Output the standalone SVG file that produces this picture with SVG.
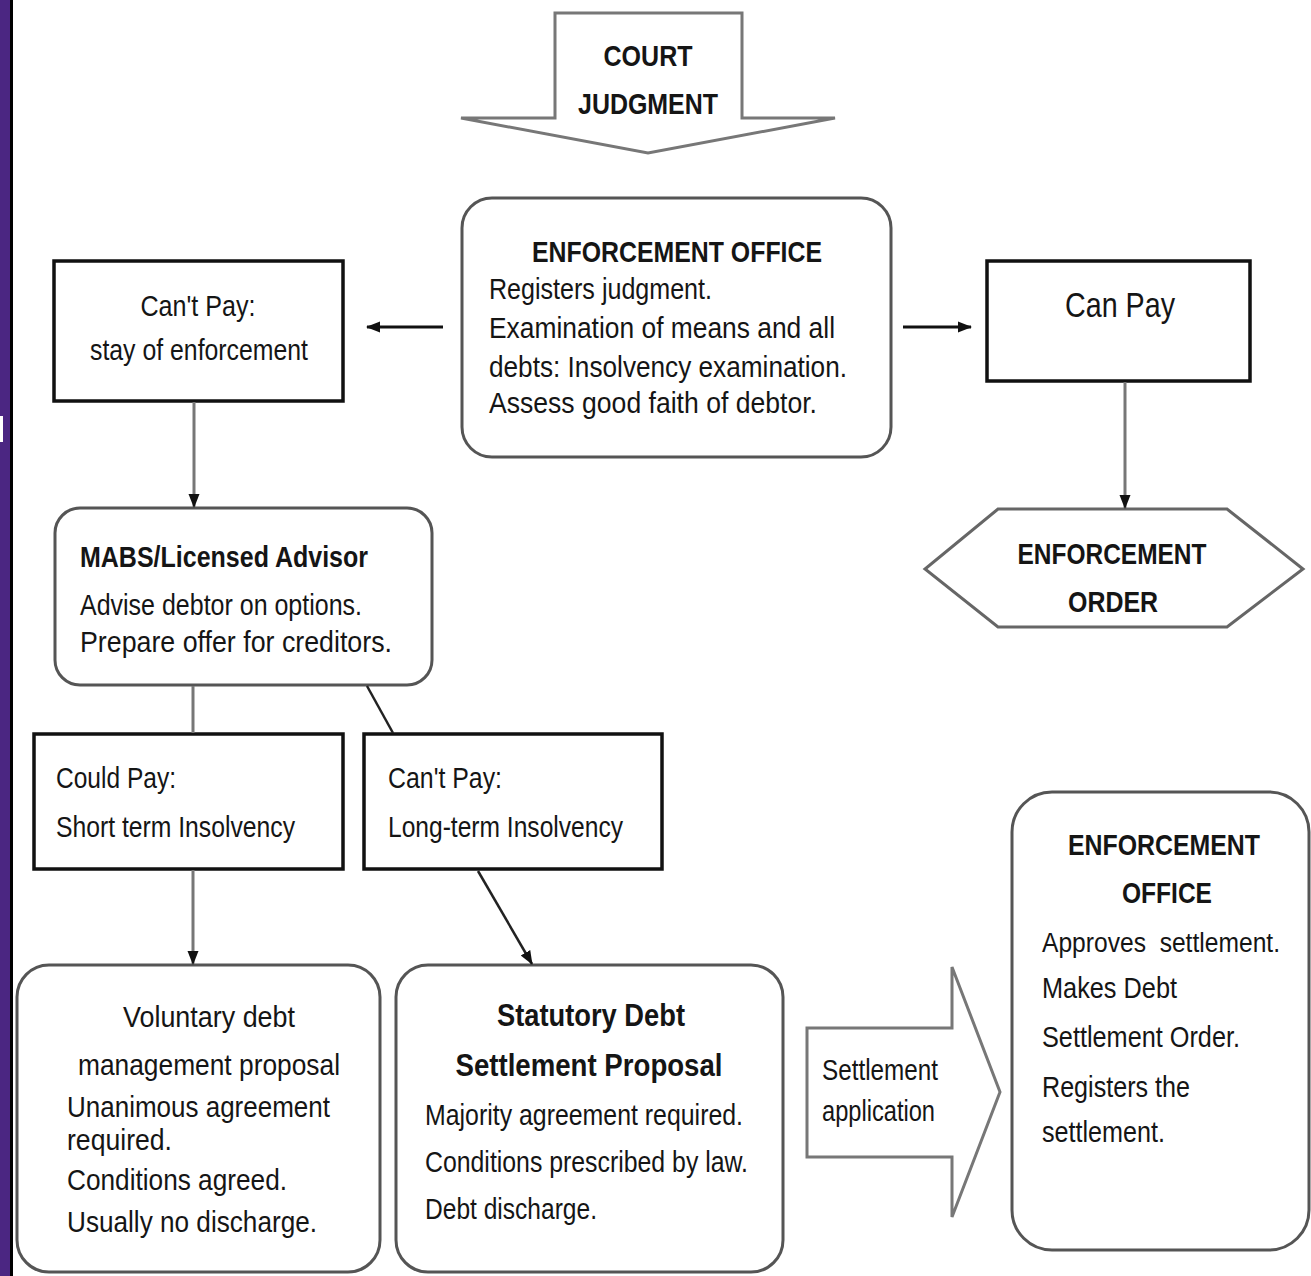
<svg xmlns="http://www.w3.org/2000/svg" width="1311" height="1276" viewBox="0 0 1311 1276">
<defs>
<marker id="ah" markerWidth="14" markerHeight="14" refX="13" refY="7" orient="auto" markerUnits="userSpaceOnUse">
<path d="M0,1.5 L14,7 L0,12.5 Z" fill="#111"/>
</marker>
<style>
text{font-family:"Liberation Sans",Arial,sans-serif;fill:#151515;font-size:30px}
.b{font-weight:bold}
.m{text-anchor:middle}
.box{fill:#fff;stroke:#111;stroke-width:3.5}
.rbox{fill:#fff;stroke:#555;stroke-width:3}
.conn{fill:none;stroke:#777;stroke-width:3}
.dconn{fill:none;stroke:#222;stroke-width:2.5}
.hconn{fill:none;stroke:#111;stroke-width:3}
</style>
</defs>
<rect x="0" y="0" width="1311" height="1276" fill="#fff"/>
<rect x="0" y="0" width="10" height="1276" fill="#4b2682"/>
<rect x="10" y="0" width="3" height="1276" fill="#000"/>
<rect x="0" y="416" width="3" height="26" fill="#fff"/>

<g id="court-judgment">
<path d="M555,13 L742,13 L742,118 L835,118 L648,153 L461,118 L555,118 Z" fill="#fff" stroke="#777" stroke-width="3"/>
<text class="b m" x="648" y="66" textLength="89" lengthAdjust="spacingAndGlyphs">COURT</text>
<text class="b m" x="648" y="114" textLength="140" lengthAdjust="spacingAndGlyphs">JUDGMENT</text>
</g>

<g id="enforcement-office">
<rect class="rbox" x="462" y="198" width="429" height="259" rx="30"/>
<text class="b m" x="677" y="262" textLength="290" lengthAdjust="spacingAndGlyphs">ENFORCEMENT OFFICE</text>
<text x="489" y="299" textLength="223" lengthAdjust="spacingAndGlyphs">Registers judgment.</text>
<text x="489" y="338" textLength="346" lengthAdjust="spacingAndGlyphs">Examination of means and all</text>
<text x="489" y="377" textLength="358" lengthAdjust="spacingAndGlyphs">debts: Insolvency examination.</text>
<text x="489" y="413" textLength="328" lengthAdjust="spacingAndGlyphs">Assess good faith of debtor.</text>
</g>

<g id="cant-pay-stay">
<rect class="box" x="54" y="261" width="289" height="140"/>
<text class="m" x="198" y="316" textLength="115" lengthAdjust="spacingAndGlyphs">Can't Pay:</text>
<text class="m" x="199" y="360" textLength="218" lengthAdjust="spacingAndGlyphs">stay of enforcement</text>
</g>

<g id="can-pay">
<rect class="box" x="987" y="261" width="263" height="120"/>
<text class="m" x="1120" y="317" textLength="110" lengthAdjust="spacingAndGlyphs" style="font-size:35px">Can Pay</text>
</g>

<g id="enforcement-order">
<path d="M998,509 L1227,509 L1303,569 L1227,627 L998,627 L925,569 Z" fill="#fff" stroke="#666" stroke-width="3"/>
<text class="b m" x="1112" y="564" textLength="189" lengthAdjust="spacingAndGlyphs">ENFORCEMENT</text>
<text class="b m" x="1113" y="612" textLength="90" lengthAdjust="spacingAndGlyphs">ORDER</text>
</g>

<g id="mabs">
<rect class="rbox" x="55" y="508" width="377" height="177" rx="25"/>
<text class="b" x="80" y="567" textLength="288" lengthAdjust="spacingAndGlyphs">MABS/Licensed Advisor</text>
<text x="80" y="615" textLength="282" lengthAdjust="spacingAndGlyphs">Advise debtor on options.</text>
<text x="80" y="652" textLength="312" lengthAdjust="spacingAndGlyphs">Prepare offer for creditors.</text>
</g>

<g id="could-pay">
<rect class="box" x="34" y="734" width="309" height="135"/>
<text x="56" y="788" textLength="120" lengthAdjust="spacingAndGlyphs">Could Pay:</text>
<text x="56" y="837" textLength="239" lengthAdjust="spacingAndGlyphs">Short term Insolvency</text>
</g>

<g id="cant-pay-long">
<rect class="box" x="364" y="734" width="298" height="135"/>
<text x="388" y="788" textLength="114" lengthAdjust="spacingAndGlyphs">Can't Pay:</text>
<text x="388" y="837" textLength="235" lengthAdjust="spacingAndGlyphs">Long-term Insolvency</text>
</g>

<g id="voluntary">
<rect class="rbox" x="17" y="965" width="363" height="307" rx="32"/>
<text class="m" x="209" y="1027" textLength="172" lengthAdjust="spacingAndGlyphs">Voluntary debt</text>
<text class="m" x="209" y="1075" textLength="262" lengthAdjust="spacingAndGlyphs">management proposal</text>
<text x="67" y="1117" textLength="263" lengthAdjust="spacingAndGlyphs">Unanimous agreement</text>
<text x="67" y="1150" textLength="105" lengthAdjust="spacingAndGlyphs">required.</text>
<text x="67" y="1190" textLength="220" lengthAdjust="spacingAndGlyphs">Conditions agreed.</text>
<text x="67" y="1232" textLength="250" lengthAdjust="spacingAndGlyphs">Usually no discharge.</text>
</g>

<g id="statutory">
<rect class="rbox" x="396" y="965" width="387" height="307" rx="32"/>
<text class="b m" x="591" y="1026" textLength="188" lengthAdjust="spacingAndGlyphs" style="font-size:32px">Statutory Debt</text>
<text class="b m" x="589" y="1076" textLength="267" lengthAdjust="spacingAndGlyphs" style="font-size:32px">Settlement Proposal</text>
<text x="425" y="1125" textLength="318" lengthAdjust="spacingAndGlyphs">Majority agreement required.</text>
<text x="425" y="1172" textLength="323" lengthAdjust="spacingAndGlyphs">Conditions prescribed by law.</text>
<text x="425" y="1219" textLength="172" lengthAdjust="spacingAndGlyphs">Debt discharge.</text>
</g>

<g id="settlement-application">
<path d="M807,1028 L952,1028 L952,967 L1000,1092 L952,1217 L952,1157 L807,1157 Z" fill="#fff" stroke="#777" stroke-width="3"/>
<text x="822" y="1080" textLength="116" lengthAdjust="spacingAndGlyphs">Settlement</text>
<text x="822" y="1121" textLength="113" lengthAdjust="spacingAndGlyphs">application</text>
</g>

<g id="enforcement-office-2">
<rect class="rbox" x="1012" y="792" width="297" height="458" rx="40"/>
<text class="b m" x="1164" y="855" textLength="192" lengthAdjust="spacingAndGlyphs">ENFORCEMENT</text>
<text class="b m" x="1167" y="903" textLength="90" lengthAdjust="spacingAndGlyphs">OFFICE</text>
<text x="1042" y="952" textLength="238" lengthAdjust="spacingAndGlyphs" style="white-space:pre;font-size:27px">Approves  settlement.</text>
<text x="1042" y="998" textLength="135" lengthAdjust="spacingAndGlyphs">Makes Debt</text>
<text x="1042" y="1047" textLength="198" lengthAdjust="spacingAndGlyphs">Settlement Order.</text>
<text x="1042" y="1097" textLength="148" lengthAdjust="spacingAndGlyphs">Registers the</text>
<text x="1042" y="1142" textLength="123" lengthAdjust="spacingAndGlyphs">settlement.</text>
</g>

<g id="connectors">
<line class="hconn" x1="443" y1="327" x2="367" y2="327" marker-end="url(#ah)"/>
<line class="hconn" x1="903" y1="327" x2="971" y2="327" marker-end="url(#ah)"/>
<line class="conn" x1="1125" y1="382" x2="1125" y2="508" marker-end="url(#ah)"/>
<line class="conn" x1="194" y1="402" x2="194" y2="507" marker-end="url(#ah)"/>
<line class="conn" x1="193" y1="686" x2="193" y2="733"/>
<line class="dconn" x1="367" y1="686" x2="393" y2="733"/>
<line class="conn" x1="193" y1="870" x2="193" y2="964" marker-end="url(#ah)"/>
<line class="dconn" x1="478" y1="871" x2="532" y2="964" marker-end="url(#ah)"/>
</g>
</svg>
